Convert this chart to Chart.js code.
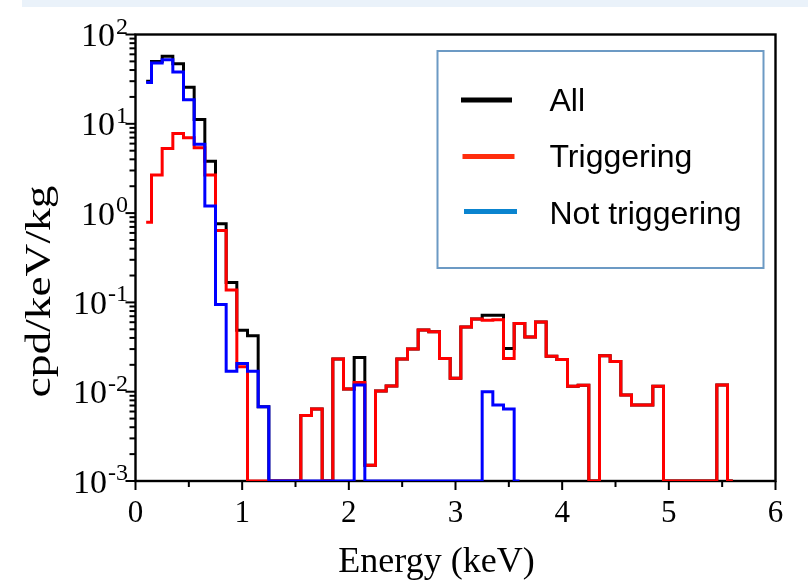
<!DOCTYPE html>
<html><head><meta charset="utf-8">
<script src="https://cdn.jsdelivr.net/npm/chart.js@4"></script>
<style>
html,body{margin:0;padding:0;background:#fff;}
#wrap{position:relative;width:808px;height:581px;overflow:hidden;}
#band{position:absolute;left:22px;top:0;width:786px;height:7px;background:#EAF2FA;}
canvas{position:absolute;left:0;top:0;}
</style></head><body>
<div id="wrap"><div id="band"></div><canvas id="c" width="808" height="581"></canvas></div>
<script>
// Energy (keV) of each histogram point
const energies = [0.1,0.2,0.3,0.4,0.5,0.6,0.7,0.8,0.9,1.0,
  1.1,1.2,1.3,1.4,1.5,1.6,1.7,1.8,1.9,2.0,
  2.1,2.2,2.3,2.4,2.5,2.6,2.7,2.8,2.9,3.0,
  3.1,3.2,3.3,3.4,3.5,3.6,3.7,3.8,3.9,4.0,
  4.1,4.2,4.3,4.4,4.5,4.6,4.7,4.8,4.9,5.0,
  5.1,5.2,5.3,5.4,5.5,5.6];

// cpd/keV/kg, "All"
const allValues = [30,50,57,47,25.7,11.2,3.8,0.76,0.167,0.0489,
  0.0422,0.0068,0.001,0.001,0.001,0.0054,0.0064,0.001,0.0232,0.0107,
  0.0242,0.0015,0.0102,0.0116,0.0232,0.030,0.049,0.047,0.0236,0.0141,
  0.053,0.065,0.072,0.072,0.0305,0.058,0.041,0.0605,0.025,0.023,
  0.0115,0.0118,0.001,0.0252,0.0218,0.0092,0.0071,0.0071,0.0115,0.001,
  0.001,0.001,0.001,0.001,0.0119,0.001];

// cpd/keV/kg, "Triggering"
const triggeringValues = [0.79,2.67,5.3,7.8,7.0,5.4,2.67,0.64,0.138,0.019,
  0.001,0.001,0.001,0.001,0.001,0.0054,0.0064,0.001,0.0232,0.0107,
  0.0127,0.0015,0.0102,0.0116,0.0232,0.030,0.049,0.047,0.0236,0.0141,
  0.053,0.065,0.063,0.064,0.0236,0.058,0.041,0.0605,0.025,0.023,
  0.0115,0.0118,0.001,0.0252,0.0218,0.0092,0.0071,0.0071,0.0115,0.001,
  0.001,0.001,0.001,0.001,0.0119,0.001];

// cpd/keV/kg, "Not triggering" (0.1 .. 3.6 keV)
const notTriggeringValues = [29,48,52,38,18.6,5.9,1.2,0.095,0.0169,0.0207,
  0.0169,0.0068,0.001,0.001,0.001,0.001,0.001,0.001,0.001,0.001,
  0.0119,0.001,0.001,0.001,0.001,0.001,0.001,0.001,0.001,0.001,
  0.001,0.001,0.0100,0.0071,0.0064,0.001];

const seriesLabels = ['All','Triggering','Not triggering'];
const xTickValues = [0,1,2,3,4,5,6];
const yTickExponents = [-3,-2,-1,0,1,2];
const xTitle = 'Energy (keV)';
const yTitle = 'cpd/keV/kg';

const lineColors = ['#000000','#FF0000','#0000FF'];
const legendColors = ['#000000','#FF2D0D','#0A84CF'];

function pts(vals){ return vals.map((v,i)=>({x:energies[i], y:v})); }

const SERIF = '"Liberation Serif","Times New Roman",serif';
const SANS = '"Liberation Sans",Arial,sans-serif';

const decor = {
  id:'decor',
  beforeDatasetsDraw(chart){
    const {ctx, chartArea:a, scales:{x,y}} = chart;
    ctx.save();
    ctx.strokeStyle='#000';
    ctx.lineWidth=2.4;
    ctx.strokeRect(a.left,a.top,a.right-a.left,a.bottom-a.top);
    ctx.lineWidth=2;
    // x ticks (major + half-unit minor)
    for (let i=0;i<xTickValues.length;i++){
      const v = xTickValues[i];
      let px = x.getPixelForValue(v);
      ctx.beginPath(); ctx.moveTo(px,a.bottom); ctx.lineTo(px,a.bottom+9); ctx.stroke();
      if (i<xTickValues.length-1){
        px = x.getPixelForValue((v+xTickValues[i+1])/2);
        ctx.beginPath(); ctx.moveTo(px,a.bottom); ctx.lineTo(px,a.bottom+6); ctx.stroke();
      }
    }
    // y ticks (log)
    for (let i=0;i<yTickExponents.length;i++){
      const e = yTickExponents[i];
      let py = y.getPixelForValue(Math.pow(10,e));
      ctx.beginPath(); ctx.moveTo(a.left,py); ctx.lineTo(a.left-10,py); ctx.stroke();
      if (i<yTickExponents.length-1){
        for (let k=2;k<=9;k++){
          py = y.getPixelForValue(k*Math.pow(10,e));
          ctx.beginPath(); ctx.moveTo(a.left,py); ctx.lineTo(a.left-6,py); ctx.stroke();
        }
      }
    }
    ctx.restore();
  },
  afterDraw(chart){
    const {ctx, chartArea:a, scales:{x,y}} = chart;
    ctx.save();
    ctx.fillStyle='#000';
    // x tick labels
    ctx.font='31px '+SERIF;
    ctx.textAlign='center'; ctx.textBaseline='alphabetic';
    xTickValues.forEach(v=>{ ctx.fillText(String(v), x.getPixelForValue(v), 522); });
    // y tick labels 10^e
    yTickExponents.forEach(e=>{
      const py = y.getPixelForValue(Math.pow(10,e));
      const sup = String(e);
      ctx.font='24px '+SERIF;
      const ws = ctx.measureText(sup).width;
      ctx.textAlign='right';
      ctx.fillText(sup, 128, py-1);
      ctx.font='34px '+SERIF;
      ctx.fillText('10', 128-ws-1, py+11.5);
    });
    // x title
    ctx.font='36px '+SERIF;
    ctx.textAlign='center';
    ctx.fillText(xTitle, 436.5, 571.5);
    // y title (slightly stretched along its length)
    ctx.save();
    ctx.translate(50, 291.5);
    ctx.rotate(-Math.PI/2);
    ctx.font='36px '+SERIF;
    const w = ctx.measureText(yTitle).width;
    ctx.scale(212/w,1);
    ctx.textAlign='center';
    ctx.fillText(yTitle,0,0);
    ctx.restore();
    // legend box
    ctx.strokeStyle='#6C9AC4';
    ctx.lineWidth=2;
    ctx.strokeRect(437.5,51,326,217);
    const lineY=[100,156.5,211.5], textY=[110.7,166.7,224];
    ctx.font='32px '+SANS;
    ctx.textAlign='left';
    for (let i=0;i<3;i++){
      ctx.strokeStyle=legendColors[i];
      ctx.lineWidth=5;
      ctx.beginPath(); ctx.moveTo(461+i*1.5,lineY[i]); ctx.lineTo(512+i*2.5,lineY[i]); ctx.stroke();
      ctx.fillStyle='#000';
      ctx.fillText(seriesLabels[i], 549.5, textY[i]);
    }
    ctx.restore();
  }
};

new Chart(document.getElementById('c'), {
  type:'line',
  data:{datasets:[
    {label:seriesLabels[0], data:pts(allValues), borderColor:lineColors[0], order:3},
    {label:seriesLabels[1], data:pts(triggeringValues), borderColor:lineColors[1], order:2},
    {label:seriesLabels[2], data:pts(notTriggeringValues), borderColor:lineColors[2], order:1}
  ]},
  options:{
    responsive:false, animation:false, devicePixelRatio:1,
    layout:{padding:{left:135.5, top:34.5, right:32.5, bottom:100}},
    elements:{line:{borderWidth:3, stepped:'middle', tension:0, fill:false, borderJoinStyle:'miter'}, point:{radius:0, hoverRadius:0}},
    plugins:{legend:{display:false}, tooltip:{enabled:false}},
    events:[],
    scales:{
      x:{type:'linear', min:0, max:6, display:false},
      y:{type:'logarithmic', min:0.001, max:100, display:false}
    }
  },
  plugins:[decor]
});
</script>
</body></html>
